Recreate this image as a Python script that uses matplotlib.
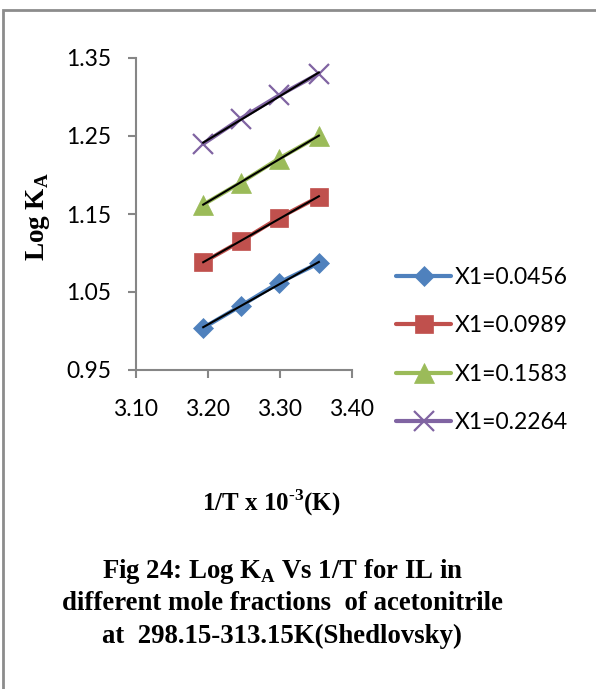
import numpy as np
import matplotlib.pyplot as plt
from matplotlib.patches import Rectangle

# 1/T x 10^3 for 298.15, 303.15, 308.15, 313.15 K
temps = [298.15, 303.15, 308.15, 313.15]
labels = ["X1=0.0456", "X1=0.0989", "X1=0.1583", "X1=0.2264"]
log_ka_1 = [1.087, 1.062, 1.032, 1.004]
log_ka_2 = [1.172, 1.145, 1.115, 1.088]
log_ka_3 = [1.250, 1.221, 1.190, 1.162]
log_ka_4 = [1.330, 1.302, 1.272, 1.240]

colors = ["#4F81BD", "#C0504D", "#9BBB59", "#8064A2"]
markers = ["D", "s", "^", "x"]
msizes = [10, 13.5, 14, 14]

inv_t = [1000.0 / t for t in temps]
series = [log_ka_1, log_ka_2, log_ka_3, log_ka_4]

serif = "Liberation Serif"
sans = "Lato"
plt.rcParams["mathtext.fontset"] = "custom"
plt.rcParams["mathtext.rm"] = serif
plt.rcParams["mathtext.bf"] = serif + ":bold"

fig = plt.figure(figsize=(5.96, 6.89), dpi=100)
ax = fig.add_axes([136 / 596, 1 - 370 / 689, 216 / 596, 312 / 689])

for y, lab, c, m, ms in zip(series, labels, colors, markers, msizes):
    ax.plot(inv_t, y, color=c, lw=3, marker=m, ms=ms, mec=c, mew=1.6 if m == "x" else 0.5,
            label=lab, solid_capstyle="round")
# linear trend lines
for y in series:
    k, b = np.polyfit(inv_t, y, 1)
    xs = np.array([min(inv_t), max(inv_t)])
    ax.plot(xs, k * xs + b, color="black", lw=1.5, zorder=5)

ax.set_xlim(3.10, 3.40)
ax.set_ylim(0.95, 1.35)
ax.set_xticks([3.10, 3.20, 3.30, 3.40])
ax.set_xticklabels(["3.10", "3.20", "3.30", "3.40"])
ax.set_yticks([0.95, 1.05, 1.15, 1.25, 1.35])
ax.set_yticklabels(["0.95", "1.05", "1.15", "1.25", "1.35"])
for s in ["top", "right"]:
    ax.spines[s].set_visible(False)
for s in ["left", "bottom"]:
    ax.spines[s].set_color("#868686")
    ax.spines[s].set_linewidth(1.5)
ax.tick_params(axis="both", direction="out", length=6, width=1.5, color="#868686",
               labelsize=16.5)
ax.tick_params(axis="x", pad=15)
ax.tick_params(axis="y", pad=12)
for t in ax.get_xticklabels() + ax.get_yticklabels():
    t.set_fontfamily(sans)

fig.legend(loc="center left", bbox_to_anchor=(396 / 596, 1 - 350 / 689),
           frameon=False, prop={"family": sans, "size": 16.5},
           handlelength=2.4, handletextpad=0.15, labelspacing=1.19,
           borderaxespad=0, borderpad=0)

fig.text(38 / 596, 1 - 217 / 689, r"Log K$_\mathbf{A}$", rotation=90, ha="center", va="center",
         fontsize=19.5, fontweight="bold", family=serif)
fig.text(271.5 / 596, 1 - 511 / 689, "1/T x 10$^{\\mathbf{\u20103}}$(K)", ha="center",
         va="baseline", fontsize=18, fontweight="bold", family=serif)

caption = ["Fig 24: Log K$_\\mathbf{A}$ Vs 1/T for IL in",
           "different mole fractions  of acetonitrile",
           "at  298.15-313.15K(Shedlovsky)"]
for line, base in zip(caption, [578, 610, 643]):
    fig.text(282 / 596, 1 - base / 689, line, ha="center", va="baseline",
             fontsize=19.3, fontweight="bold", family=serif)

fig.patches.append(Rectangle((3 / 596, -0.1), 1.2, 1 - 10 / 689 + 0.1,
                             transform=fig.transFigure, fill=False,
                             edgecolor="#8c8c8c", lw=2))

fig.savefig("out.png", dpi=100)
